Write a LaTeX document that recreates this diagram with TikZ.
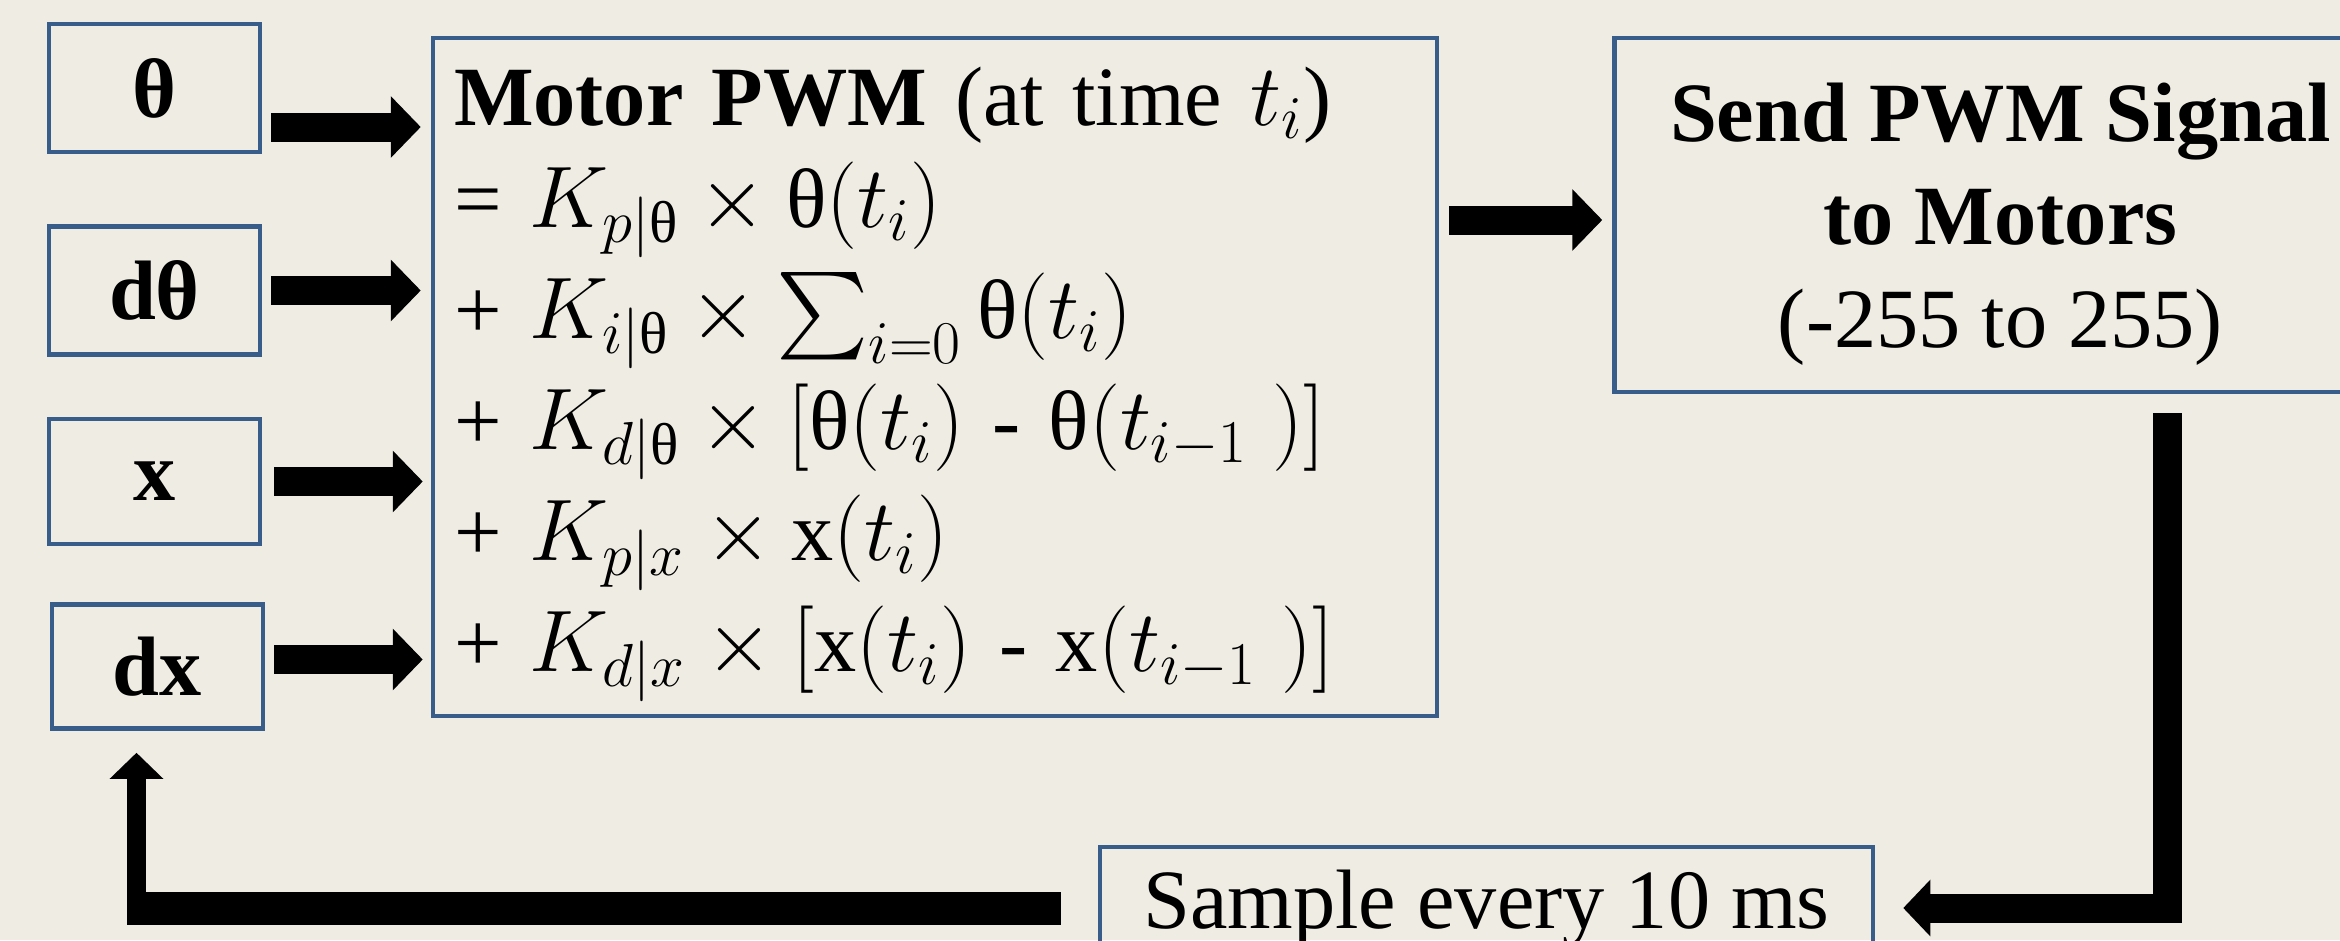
\documentclass[tikz,border=0pt]{standalone}
\usepackage{amsmath}
\usepackage{fontspec}
\setmainfont{Liberation Serif}
\usetikzlibrary{positioning, arrows.meta}

\definecolor{pagebg}{HTML}{EFEDE3}
\definecolor{boxblue}{HTML}{385D8A}

\newcommand{\thv}{\text{θ}}

\begin{document}
\begin{tikzpicture}[
  x=0.1mm, y=-0.1mm,
  every node/.style = {font=\fontsize{24}{31.6}\selectfont},
  box/.style = {draw=boxblue, line width=0.45mm, inner sep=0pt},
  inbox/.style = {box, minimum width=21.1mm, minimum height=12.5mm,
                  font=\fontsize{24}{29}\selectfont\bfseries},
  fat/.style = {line width=2.9mm, -{Triangle[length=3mm, width=6mm]}},
  elbow/.style = {line width=2.9mm, -{Triangle[length=2.7mm, width=5.5mm]}},
  bar/.style = {line width=3.3mm},
  slim/.style = {line width=1.9mm, -{Triangle[length=2.6mm, width=5.2mm]}}
]

\clip (0,0) rectangle (2340,940);
\fill[pagebg] (0,0) rectangle (2340,940);

% measured inputs
\node[inbox, minimum height=12.8mm] (th) at (154.5,88) {θ};
\node[inbox, minimum height=12.8mm, below=7mm of th] (dth) {dθ};
\node[inbox, below=6mm of dth] (xx) {x};
\node[inbox, minimum height=12.4mm, below=5.6mm of xx, xshift=0.3mm] (dxx) {dx};

% controller output
\node[box, text width=96.2mm, inner xsep=2.1mm, minimum height=67.8mm,
      align=left] (main) at (935,377) {%
  \rule{0pt}{21pt}\textbf{Motor PWM} (at time $t_i$)\\[-2.8pt]
  = $K_{p|\thv} \times \thv(t_i)$\\
  + $K_{i|\thv} \times \sum_{i=0} \thv(t_i)$\\
  + $K_{d|\thv} \times [\thv(t_i)$ - $\thv(t_{i-1}\;)]$\\
  + $K_{p|x} \times \text{x}(t_i)$\\
  + $K_{d|x} \times [\text{x}(t_i)$ - $\text{x}(t_{i-1}\;)]$};

\node[box, minimum width=77.2mm, minimum height=35.4mm, align=center,
      font=\fontsize{24}{29.3}\selectfont, text depth=0pt,
      right=17.3mm of main.north east, anchor=north west] (send)
  {\textbf{Send PWM Signal}\\ \textbf{to Motors}\\ (-255 to 255)};

\node[box, minimum width=77.3mm, minimum height=12.2mm] (smp) at (1486.5,908)
  {Sample every 10 ms};

\coordinate (lc) at ([xshift=-2.1mm]dxx.south |- smp);

% inputs into the controller
\draw[fat] ([shift={(9,39)}]th.east) -- ([shift={(-10,39)}]th.east -| main.west);
\draw[fat] ([shift={(9,0)}]dth.east) -- ([shift={(-10,0)}]dth.east -| main.west);
\draw[fat] ([shift={(12,0)}]xx.east) -- ([shift={(-8,0)}]xx.east -| main.west);
\draw[fat] ([shift={(9,-7)}]dxx.east) -- ([shift={(-8,-7)}]dxx.east -| main.west);

\draw[fat] ([shift={(10,5)}]main.east |- send.west) -- ([shift={(-10,5)}]send.west);

% feedback loop
\draw[elbow, shorten >=2.8mm] ([shift={(167,19)}]send.south) |- (smp.east);
\draw[bar] ([xshift=-3.7mm]smp.west) -- ([xshift=-0.95mm]lc);
\draw[slim, shorten >=2.2mm] ([shift={(0,16)}]lc) -- (lc |- dxx.south);

\end{tikzpicture}
\end{document}
